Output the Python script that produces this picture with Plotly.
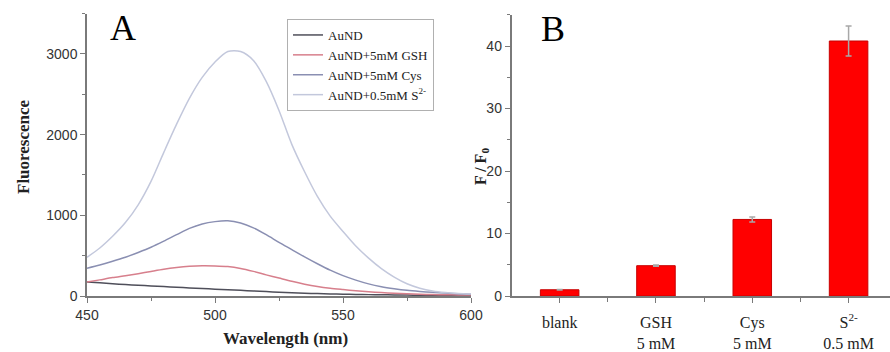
import plotly.graph_objects as go

# ---------------- data ----------------
wavelength = [450, 455, 460, 465, 470, 475, 480, 485, 490, 495, 500, 505, 510, 515, 520,
              525, 530, 535, 540, 545, 550, 555, 560, 565, 570, 575, 580, 585, 590, 595, 600]
aund = [175, 163, 152, 142, 133, 125, 117, 109, 100, 92, 85, 78, 70, 63, 55,
        47, 40, 35, 30, 26, 23, 20, 17, 15, 13, 11, 10, 9, 8, 7, 6]
aund_gsh = [172, 200, 228, 252, 277, 305, 332, 353, 368, 375, 373, 365, 342, 305, 262,
            222, 182, 147, 118, 96, 80, 65, 52, 42, 34, 27, 22, 18, 15, 13, 11]
aund_cys = [345, 385, 430, 480, 540, 605, 680, 760, 838, 893, 922, 932, 905, 845, 760,
            665, 575, 485, 400, 320, 252, 197, 150, 115, 90, 70, 56, 45, 36, 28, 22]
aund_s = [480, 595, 740, 910, 1130, 1420, 1780, 2130, 2450, 2710, 2900, 3030, 3030, 2920, 2660,
          2300, 1880, 1540, 1235, 990, 800, 620, 470, 340, 235, 152, 97, 62, 43, 32, 25]
series_names = ["AuND", "AuND+5mM GSH", "AuND+5mM Cys", "AuND+0.5mM S<sup>2-</sup>"]
series_colors = ["#4f4f5a", "#d77f8c", "#8a8fb2", "#c3c8dc"]

bar_categories = ["blank", "GSH<br>5 mM", "Cys<br>5 mM", "S<sup>2-</sup><br>0.5 mM"]
bar_values = [1.0, 4.85, 12.25, 40.8]
bar_errors = [0.05, 0.1, 0.4, 2.4]

# ---------------- figure ----------------
W, H = 890, 352
fig = go.Figure()

for name, vals, col in zip(series_names, [aund, aund_gsh, aund_cys, aund_s], series_colors):
    fig.add_trace(go.Scatter(x=wavelength, y=vals, mode="lines", name=name,
                             line=dict(color=col, width=1.5, shape="spline", smoothing=0.8),
                             xaxis="x", yaxis="y"))

bar_pos = list(range(len(bar_categories)))
fig.add_trace(go.Bar(x=bar_pos, y=bar_values, width=0.4, showlegend=False,
                     marker=dict(color="#ff0000", line=dict(color="#c80000", width=1)),
                     error_y=dict(type="data", array=bar_errors, color="#a8a8a8",
                                  thickness=1.5, width=3),
                     xaxis="x2", yaxis="y2"))

tickfont = dict(family="Liberation Sans, Arial, sans-serif", size=14, color="#333333")
axcommon = dict(showline=True, linecolor="#7a7a7a", linewidth=1.5, ticks="outside",
                ticklen=5, tickcolor="#7a7a7a", tickwidth=1.2, showgrid=False,
                zeroline=False, tickfont=tickfont, automargin=False)

y_bottom = (H - 296) / H
y_top_a = (H - 296 + 3500 * 80.67 / 1000) / H
y_top_b = (H - 296 + 45 * 6.25) / H

fig.update_layout(
    width=W, height=H, margin=dict(l=0, r=0, t=0, b=0, autoexpand=False),
    paper_bgcolor="white", plot_bgcolor="white",
    xaxis=dict(domain=[87 / W, 471 / W], range=[450, 600], anchor="y",
               tickvals=[450, 500, 550, 600],
               minor=dict(tickvals=[475, 525, 575], ticks="outside", ticklen=3,
                          tickcolor="#7a7a7a"),
               **axcommon),
    yaxis=dict(domain=[y_bottom, y_top_a], range=[0, 3500], anchor="x",
               tickvals=[0, 1000, 2000, 3000],
               minor=dict(tickvals=[500, 1500, 2500, 3500], ticks="outside", ticklen=3,
                          tickcolor="#7a7a7a"),
               **axcommon),
    xaxis2=dict(domain=[511.5 / W, 1.0], range=[-0.5, 3.43], anchor="y2",
                tickvals=bar_pos, ticktext=bar_categories, ticklabelstandoff=6,
                minor=dict(tickvals=[0.5, 1.5, 2.5], ticks="outside", ticklen=4,
                           tickcolor="#7a7a7a"),
                **{**axcommon, "tickfont": dict(family="Liberation Serif, Times New Roman, serif",
                                                size=16, color="#222222")}),
    yaxis2=dict(domain=[y_bottom, y_top_b], range=[0, 45], anchor="x2",
                tickvals=[0, 10, 20, 30, 40],
                minor=dict(tickvals=[5, 15, 25, 35, 45], ticks="outside", ticklen=3,
                           tickcolor="#7a7a7a"),
                **axcommon),
    legend=dict(x=287 / W, y=(H - 19) / H, xanchor="left", yanchor="top",
                bordercolor="#b0b0b0", borderwidth=1, bgcolor="white",
                font=dict(family="Liberation Serif, Times New Roman, serif", size=13,
                          color="#222222"),
                itemwidth=30, tracegroupgap=0),
    showlegend=True,
)

serif = "Liberation Serif, Times New Roman, serif"
annotations = [
    dict(text="A", x=123 / W, y=(H - 28) / H, font=dict(family=serif, size=36, color="black")),
    dict(text="B", x=553 / W, y=(H - 29) / H, font=dict(family=serif, size=36, color="black")),
    dict(text="<b>Fluorescence</b>", x=23 / W, y=(H - 147) / H, textangle=-90,
         font=dict(family=serif, size=17, color="#222222")),
    dict(text="<b>Wavelength (nm)</b>", x=285 / W, y=(H - 338) / H,
         font=dict(family=serif, size=17, color="#222222")),
    dict(text="<b>F / F<sub>0</sub></b>", x=481 / W, y=(H - 167) / H, textangle=-90,
         font=dict(family=serif, size=16, color="#222222")),
]
for a in annotations:
    fig.add_annotation(xref="paper", yref="paper", showarrow=False,
                       xanchor="center", yanchor="middle", **a)

fig.write_html("out.html", config={"displayModeBar": False},
               post_script="document.body.style.margin='0px';document.body.style.overflow='hidden';")
